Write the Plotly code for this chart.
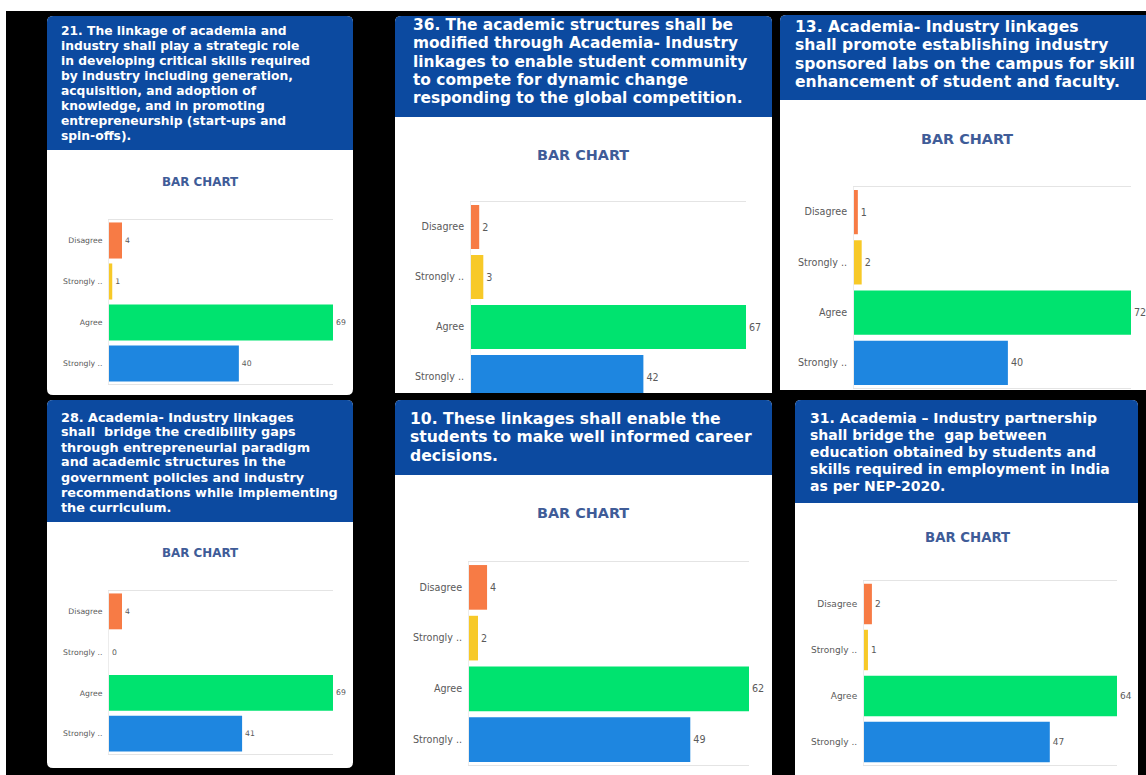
import plotly.graph_objects as go

W, H = 1146, 775

# Response categories (top to bottom) and their bar colours
categories = ["Disagree", "Strongly ..", "Agree", "Strongly .."]
bar_colors = ["#f77b45", "#f7c928", "#00e36f", "#1e86e0"]

# Survey statements, one per card
q21_lines = ["21. The linkage of academia and",
             "industry shall play a strategic role",
             "in developing critical skills required",
             "by industry including generation,",
             "acquisition, and adoption of",
             "knowledge, and in promoting",
             "entrepreneurship (start-ups and",
             "spin-offs)."]
q36_lines = ["36. The academic structures shall be",
             "modified through Academia- Industry",
             "linkages to enable student community",
             "to compete for dynamic change",
             "responding to the global competition."]
q13_lines = ["13. Academia- Industry linkages",
             "shall promote establishing industry",
             "sponsored labs on the campus for skill",
             "enhancement of student and faculty."]
q28_lines = ["28. Academia- Industry linkages",
             "shall  bridge the credibility gaps",
             "through entrepreneurial paradigm",
             "and academic structures in the",
             "government policies and industry",
             "recommendations while implementing",
             "the curriculum."]
q10_lines = ["10. These linkages shall enable the",
             "students to make well informed career",
             "decisions."]
q31_lines = ["31. Academia \u2013 Industry partnership",
             "shall bridge the  gap between",
             "education obtained by students and",
             "skills required in employment in India",
             "as per NEP-2020."]

# Response counts per statement, same order as categories
q21_counts = [4, 1, 69, 40]
q36_counts = [2, 3, 67, 42]
q13_counts = [1, 2, 72, 40]
q28_counts = [4, 0, 69, 41]
q10_counts = [4, 2, 62, 49]
q31_counts = [2, 1, 64, 47]

chart_title = "BAR CHART"

HEADER_BLUE = "#0c4aa0"
TITLE_BLUE = "#3f5c98"
LABEL_GREY = "#5a5a5a"
FONT = "DejaVu Sans"


def fx(px):
    return px / W


def fy(py):
    return 1 - py / H


def rounded_path(x0, y0, x1, y1, r_top, r_bot):
    """Rounded rectangle path in paper coordinates from pixel edges."""
    def P(x, y):
        return f"{fx(x):.5f},{fy(y):.5f}"
    p = f"M {P(x0 + r_top, y0)} L {P(x1 - r_top, y0)} "
    p += f"Q {P(x1, y0)} {P(x1, y0 + r_top)} "
    p += f"L {P(x1, y1 - r_bot)} "
    p += f"Q {P(x1, y1)} {P(x1 - r_bot, y1)} "
    p += f"L {P(x0 + r_bot, y1)} "
    p += f"Q {P(x0, y1)} {P(x0, y1 - r_bot)} "
    p += f"L {P(x0, y0 + r_top)} "
    p += f"Q {P(x0, y0)} {P(x0 + r_top, y0)} Z"
    return p


# Card layout: frame, header, statement text, chart title, plot area
cards = [
    dict(box=(47, 16, 353, 395), r_bot=6, head_bottom=150,
         lines=q21_lines, tx=59, ty0=31, dy=15, fs=12.3,
         title_xy=(200, 182), title_fs=11.9,
         plot=(109, 333, 220, 384), yrange_bottom=3.5,
         counts=q21_counts, tick_fs=7.7, mirror=True),
    dict(box=(395, 16, 772, 393), r_bot=0, head_bottom=117,
         lines=q36_lines, tx=411, ty0=25, dy=18.3, fs=15.4,
         title_xy=(583, 155), title_fs=14.4,
         plot=(471, 746, 202, 393), yrange_bottom=3.32,
         counts=q36_counts, tick_fs=9.6, mirror=False),
    dict(box=(780, 15, 1152, 390), r_bot=0, head_bottom=100,
         lines=q13_lines, tx=793, ty0=27, dy=18.3, fs=15.6,
         title_xy=(967, 139), title_fs=14.4,
         plot=(854, 1131, 187, 388), yrange_bottom=3.5,
         counts=q13_counts, tick_fs=9.6, mirror=True),
    dict(box=(47, 400, 353, 768), r_bot=6, head_bottom=522,
         lines=q28_lines, tx=59, ty0=417, dy=15, fs=12.8,
         title_xy=(200, 553), title_fs=11.9,
         plot=(109, 333, 591, 754), yrange_bottom=3.5,
         counts=q28_counts, tick_fs=7.7, mirror=True),
    dict(box=(395, 400, 772, 780), r_bot=0, head_bottom=475,
         lines=q10_lines, tx=408, ty0=419, dy=18.3, fs=15.6,
         title_xy=(583, 513), title_fs=14.4,
         plot=(469, 749, 562, 765), yrange_bottom=3.5,
         counts=q10_counts, tick_fs=9.6, mirror=True),
    dict(box=(795, 400, 1138, 780), r_bot=0, head_bottom=503,
         lines=q31_lines, tx=808, ty0=418, dy=17, fs=14.0,
         title_xy=(967, 537), title_fs=13.3,
         plot=(864, 1117, 581, 765), yrange_bottom=3.5,
         counts=q31_counts, tick_fs=9.0, mirror=True),
]

fig = go.Figure()
shapes = []
annotations = []

# White edges of the captured screen
shapes.append(dict(type="rect", xref="paper", yref="paper",
                   x0=0, x1=1, y0=fy(11), y1=1,
                   fillcolor="white", line_width=0, layer="below"))
shapes.append(dict(type="rect", xref="paper", yref="paper",
                   x0=0, x1=fx(6), y0=0, y1=1,
                   fillcolor="white", line_width=0, layer="below"))

for i, c in enumerate(cards, start=1):
    x0, y0, x1, y1 = c["box"]
    # white card body
    shapes.append(dict(type="path", xref="paper", yref="paper",
                       path=rounded_path(x0, y0, x1, y1, 6, c["r_bot"]),
                       fillcolor="white", line_width=0, layer="below"))
    # blue header
    shapes.append(dict(type="path", xref="paper", yref="paper",
                       path=rounded_path(x0, y0, x1, c["head_bottom"], 6, 0),
                       fillcolor=HEADER_BLUE, line_width=0, layer="below"))

    # statement text, one annotation per line
    for k, line in enumerate(c["lines"]):
        annotations.append(dict(
            text=line, xref="paper", yref="paper",
            x=fx(c["tx"]), y=fy(c["ty0"] + k * c["dy"]),
            xanchor="left", yanchor="middle", showarrow=False,
            font=dict(family=FONT, size=c["fs"], color="white",
                      weight=700)))

    # chart title
    tx, ty = c["title_xy"]
    annotations.append(dict(
        text=chart_title, xref="paper", yref="paper",
        x=fx(tx), y=fy(ty), xanchor="center", yanchor="middle",
        showarrow=False,
        font=dict(family=FONT, size=c["title_fs"], color=TITLE_BLUE,
                  weight=700)))

    # horizontal bar chart
    px0, px1, py0, py1 = c["plot"]
    xa = "x" if i == 1 else f"x{i}"
    ya = "y" if i == 1 else f"y{i}"
    fig.add_trace(go.Bar(
        x=c["counts"], y=list(range(len(categories))), orientation="h",
        marker=dict(color=bar_colors, line_width=0),
        text=[str(v) for v in c["counts"]], textposition="outside",
        textfont=dict(family=FONT, size=c["tick_fs"], color=LABEL_GREY),
        cliponaxis=False, hoverinfo="skip",
        xaxis=xa, yaxis=ya, showlegend=False))

    xkey = "xaxis" if i == 1 else f"xaxis{i}"
    ykey = "yaxis" if i == 1 else f"yaxis{i}"
    fig.layout[xkey] = dict(
        domain=[fx(px0), fx(px1)], anchor=ya,
        range=[0, max(c["counts"])], showgrid=False, zeroline=False,
        showticklabels=False, ticks="", showline=True,
        linecolor="#e4e4e4", linewidth=1,
        mirror=c["mirror"], side="bottom" if c["mirror"] else "top",
        fixedrange=True)
    fig.layout[ykey] = dict(
        domain=[fy(py1), fy(py0)], anchor=xa,
        range=[c["yrange_bottom"], -0.5],
        tickvals=list(range(len(categories))), ticktext=categories,
        tickfont=dict(family=FONT, size=c["tick_fs"], color=LABEL_GREY),
        ticks="", ticklabelstandoff=4,
        showgrid=False, zeroline=False, showline=True,
        linecolor="#ececec", linewidth=1, fixedrange=True)

fig.update_layout(
    width=W, height=H,
    margin=dict(l=0, r=0, t=0, b=0),
    paper_bgcolor="black", plot_bgcolor="rgba(0,0,0,0)",
    bargap=0.12,
    shapes=shapes, annotations=annotations,
    showlegend=False,
)

fig.write_html("out.html", config={"displayModeBar": False})
